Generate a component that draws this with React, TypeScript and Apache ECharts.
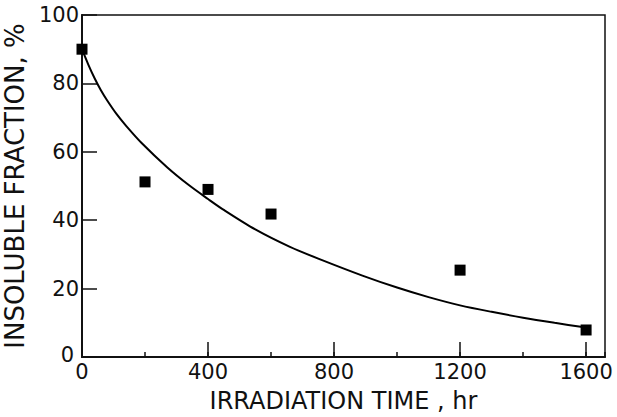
import React, { useEffect, useRef } from "react";
import * as echarts from "echarts";

// Measured data points (irradiation time hr, insoluble fraction %)
const pointTimes = [0, 200, 400, 600, 1200, 1600];
const pointValues = [90, 51.2, 49, 41.8, 25.4, 7.9];

// Fitted curve
const curveTimes = [0, 20, 40, 60, 80, 110, 140, 190, 270, 340, 400, 450, 550, 660, 760, 890, 1000, 1100, 1200, 1300, 1400, 1500, 1600];
const curveValues = [90, 85.5, 81.5, 78, 75, 71, 67.6, 62.5, 55.5, 50.2, 46.2, 43, 37.3, 32.2, 28.4, 23.8, 20.3, 17.5, 15.1, 13.2, 11.5, 10.0, 8.6];

const xTitle = "IRRADIATION TIME , hr";
const yTitle = "INSOLUBLE FRACTION, %";

export default function App() {
  const ref = useRef<HTMLDivElement>(null);
  useEffect(() => {
    if (!ref.current) return;
    const chart = echarts.init(ref.current, null, { renderer: "svg" });
    const font = "DejaVu Sans";
    chart.setOption({
      animation: false,
      backgroundColor: "#ffffff",
      grid: {
        left: 82,
        right: 12,
        top: 15,
        bottom: 60,
        containLabel: false,
        outerBoundsMode: "none",
        show: true,
        borderColor: "#111",
        borderWidth: 1.5,
        backgroundColor: "transparent",
      },
      xAxis: [
        {
          type: "value",
          min: 0,
          max: 1660,
          interval: 400,
          name: xTitle,
          nameLocation: "middle",
          nameGap: 32,
          nameTextStyle: { fontFamily: font, fontSize: 24, color: "#111" },
          axisLine: { show: true, lineStyle: { color: "#111", width: 2 } },
          axisTick: { show: true, inside: true, length: 15, lineStyle: { color: "#111", width: 1.5 } },
          axisLabel: {
            show: true,
            margin: 4,
            fontFamily: font,
            fontSize: 21,
            color: "#111",
            showMaxLabel: false,
            formatter: (v: number) => String(v),
          },
          splitLine: { show: false },
        },
        {
          type: "value",
          position: "bottom",
          min: 0,
          max: 1660,
          interval: 200,
          axisLine: { show: false },
          axisTick: { show: true, inside: true, length: 5, lineStyle: { color: "#111", width: 1.5 } },
          axisLabel: { show: false },
          splitLine: { show: false },
        },
      ],
      yAxis: {
        type: "value",
        min: 0,
        max: 100,
        interval: 20,
        name: yTitle,
        nameLocation: "middle",
        nameGap: 50,
        nameTextStyle: { fontFamily: font, fontSize: 26, color: "#111" },
        axisLine: { show: true, lineStyle: { color: "#111", width: 2 } },
        axisTick: { show: true, inside: true, length: 15, lineStyle: { color: "#111", width: 1.5 } },
        axisLabel: {
          show: true,
          margin: 3,
          fontFamily: font,
          fontSize: 21,
          color: "#111",
          formatter: (v: number) => (v === 0 ? "{z|0}" : String(v)),
          rich: {
            z: { fontFamily: font, fontSize: 21, color: "#111", padding: [0, 5, 4, 0] },
          },
        },
        splitLine: { show: false },
      },
      series: [
        {
          type: "line",
          data: curveTimes.map((t, i) => [t, curveValues[i]]),
          smooth: 0.3,
          showSymbol: false,
          lineStyle: { color: "#000", width: 2 },
          z: 2,
        },
        {
          type: "scatter",
          data: pointTimes.map((t, i) => [t, pointValues[i]]),
          symbol: "rect",
          symbolSize: 11,
          itemStyle: { color: "#000", opacity: 1 },
          z: 3,
        },
      ],
    });
    return () => chart.dispose();
  }, []);
  return (
    <div
      ref={ref}
      style={{ position: "fixed", left: 0, top: 0, width: 617, height: 417, background: "#fff" }}
    />
  );
}
